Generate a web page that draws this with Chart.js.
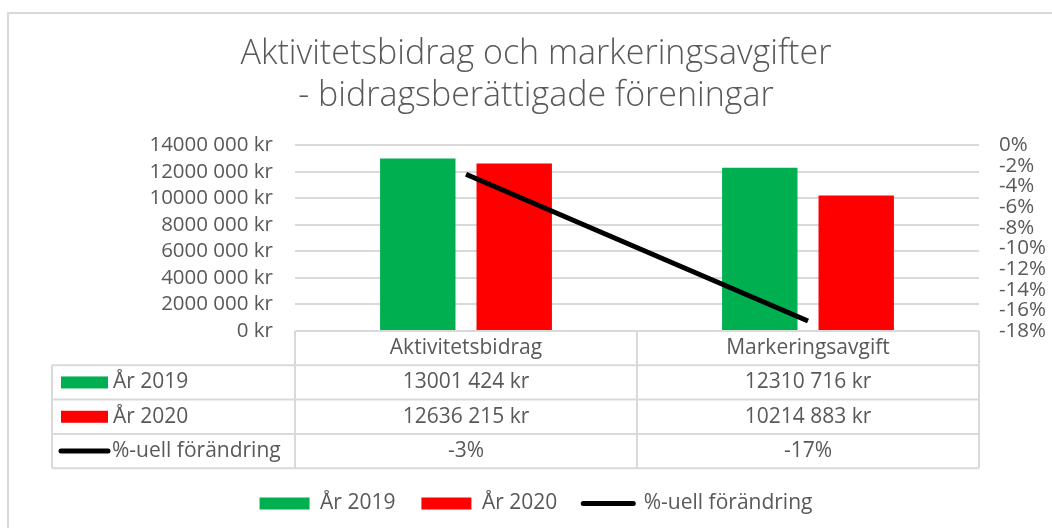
<!DOCTYPE html>
<html>
<head>
<meta charset="utf-8">
<script src="https://cdn.jsdelivr.net/npm/chart.js@4.4.1/dist/chart.umd.min.js"></script>
<style>
    body { margin: 0; background: #fff; }
    #wrap { position: relative; width: 1052px; height: 528px; }
</style>
</head>
<body>
<div id="wrap"><canvas id="chart"></canvas></div>
<script>
var categories = ['Aktivitetsbidrag', 'Markeringsavgift'];
var values2019 = [13001424, 12310716];
var values2020 = [12636215, 10214883];
var changePct = [-2.81, -17.03];
var changeLabels = ['-3%', '-17%'];
var seriesNames = ['År 2019', 'År 2020', '%-uell förändring'];
var titleLines = ['Aktivitetsbidrag och markeringsavgifter', '- bidragsberättigade föreningar'];

var FONT = "'Open Sans', sans-serif";
var TEXT = '#595959';
var GRID = '#d9d9d9';
var GREEN = '#00b050';
var RED = '#ff0000';

function formatKr(v) {
    if (v < 1000) {
        return v + ' kr';
    }
    var rest = String(v % 1000);
    while (rest.length < 3) {
        rest = '0' + rest;
    }
    return Math.floor(v / 1000) + ' ' + rest + ' kr';
}

// outer frame of the chart object
var framePlugin = {
    id: 'frame',
    beforeDraw: function(chart) {
        var ctx = chart.ctx;
        ctx.save();
        ctx.fillStyle = '#fff';
        ctx.fillRect(0, 0, chart.width, chart.height);
        ctx.strokeStyle = GRID;
        ctx.lineWidth = 2;
        ctx.strokeRect(8, 13, chart.width + 20, chart.height + 20);
        ctx.restore();
    }
};

// data table under the x axis, Excel style
var tablePlugin = {
    id: 'dataTable',
    afterDraw: function(chart) {
        var ctx = chart.ctx;
        var xs = chart.scales.x;
        var top = chart.chartArea.bottom;
        var rowH = 34.3;
        var tableLeft = 52;
        var colLeft = xs.left;
        var colRight = xs.right;
        var half = (xs.getPixelForValue(1) - xs.getPixelForValue(0)) / 2;

        ctx.save();
        ctx.strokeStyle = GRID;
        ctx.lineWidth = 2;
        ctx.beginPath();
        ctx.moveTo(colLeft, top);
        ctx.lineTo(colRight, top);
        for (var r = 1; r <= 4; r++) {
            ctx.moveTo(tableLeft, top + rowH * r);
            ctx.lineTo(colRight, top + rowH * r);
        }
        ctx.moveTo(tableLeft, top + rowH);
        ctx.lineTo(tableLeft, top + rowH * 4);
        ctx.moveTo(colLeft, top);
        ctx.lineTo(colLeft, top + rowH * 4);
        categories.forEach(function(c, i) {
            var x = xs.getPixelForValue(i) + half;
            ctx.moveTo(x, top);
            ctx.lineTo(x, top + rowH * 4);
        });
        ctx.stroke();

        ctx.font = '21px ' + FONT;
        ctx.fillStyle = TEXT;
        ctx.textAlign = 'center';
        ctx.textBaseline = 'middle';
        categories.forEach(function(c, i) {
            var x = xs.getPixelForValue(i);
            ctx.fillText(c, x, top + rowH * 0.5);
            ctx.fillText(formatKr(values2019[i]), x, top + rowH * 1.5);
            ctx.fillText(formatKr(values2020[i]), x, top + rowH * 2.5);
            ctx.fillText(changeLabels[i], x, top + rowH * 3.5);
        });

        // legend keys in the first column
        ctx.textAlign = 'left';
        var keyX = 61;
        var keyW = 47;
        ctx.fillStyle = GREEN;
        ctx.fillRect(keyX, top + rowH * 1.5 - 6, keyW, 12);
        ctx.fillStyle = RED;
        ctx.fillRect(keyX, top + rowH * 2.5 - 6, keyW, 12);
        ctx.strokeStyle = '#000';
        ctx.lineWidth = 5;
        ctx.lineCap = 'round';
        ctx.beginPath();
        ctx.moveTo(keyX, top + rowH * 3.5);
        ctx.lineTo(keyX + keyW, top + rowH * 3.5);
        ctx.stroke();
        ctx.fillStyle = TEXT;
        ctx.fillText(seriesNames[0], keyX + keyW + 5, top + rowH * 1.5);
        ctx.fillText(seriesNames[1], keyX + keyW + 5, top + rowH * 2.5);
        ctx.fillText(seriesNames[2], keyX + keyW + 4, top + rowH * 3.5);
        ctx.restore();
    }
};

var chart = new Chart(document.getElementById('chart'), {
    data: {
        labels: categories,
        datasets: [{
            type: 'bar',
            label: seriesNames[0],
            data: values2019,
            backgroundColor: GREEN,
            yAxisID: 'y',
            categoryPercentage: 0.564,
            barPercentage: 0.782,
            order: 1
        }, {
            type: 'bar',
            label: seriesNames[1],
            data: values2020,
            backgroundColor: RED,
            yAxisID: 'y',
            categoryPercentage: 0.564,
            barPercentage: 0.782,
            order: 1
        }, {
            type: 'line',
            label: seriesNames[2],
            data: changePct,
            borderColor: '#000',
            backgroundColor: '#000',
            borderWidth: 5,
            pointRadius: 0,
            yAxisID: 'y2',
            order: 0
        }]
    },
    options: {
        responsive: true,
        maintainAspectRatio: false,
        animation: false,
        layout: {
            padding: { left: 20, right: 0, top: 10, bottom: 4 }
        },
        plugins: {
            title: {
                display: true,
                text: titleLines,
                color: TEXT,
                font: { family: FONT, size: 34, weight: '300', lineHeight: 1.24 },
                padding: { top: 23, bottom: 28 }
            },
            legend: {
                position: 'bottom',
                labels: {
                    color: TEXT,
                    font: { family: FONT, size: 21 },
                    usePointStyle: true,
                    pointStyleWidth: 50,
                    boxHeight: 12,
                    padding: 26,
                    generateLabels: function(chart) {
                        return chart.data.datasets.map(function(ds, i) {
                            var isLine = ds.type === 'line';
                            return {
                                text: ds.label,
                                fillStyle: ds.backgroundColor,
                                strokeStyle: '#000',
                                lineWidth: isLine ? 5 : 0,
                                lineCap: 'round',
                                pointStyle: isLine ? 'line' : 'rect',
                                fontColor: TEXT,
                                hidden: false,
                                datasetIndex: i
                            };
                        });
                    }
                }
            },
            tooltip: { enabled: false }
        },
        scales: {
            x: {
                grid: { display: false },
                border: { display: false },
                ticks: { display: false },
                afterFit: function(scale) {
                    scale.height = 136;
                }
            },
            y: {
                position: 'left',
                min: 0,
                max: 14000000,
                border: { display: false },
                grid: { color: GRID, lineWidth: 2, drawTicks: false },
                ticks: {
                    stepSize: 2000000,
                    autoSkip: false,
                    padding: 22,
                    color: TEXT,
                    font: { family: FONT, size: 20.5 },
                    callback: function(v) { return formatKr(v); }
                },
                afterFit: function(scale) {
                    scale.width = 275;
                }
            },
            y2: {
                position: 'right',
                min: -18,
                max: 0,
                border: { display: false },
                grid: { drawOnChartArea: false, drawTicks: false },
                ticks: {
                    stepSize: 2,
                    autoSkip: false,
                    padding: 20,
                    color: TEXT,
                    font: { family: FONT, size: 20.5 },
                    callback: function(v) { return v + '%'; }
                },
                afterFit: function(scale) {
                    scale.width = 73;
                }
            }
        }
    },
    plugins: [framePlugin, tablePlugin]
});
</script>
</body>
</html>
